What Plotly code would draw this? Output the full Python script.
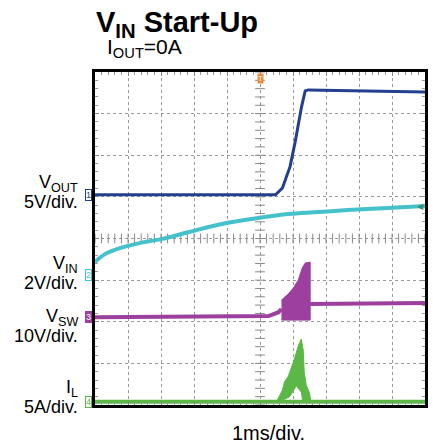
import numpy as np
import plotly.graph_objects as go

# ---------------- data (time in ms, trigger at 0) ----------------
# channel settings: scale per division and ground offset (divisions from centre)
ch_scale = {"VOUT": 5.0, "VIN": 2.0, "VSW": 10.0, "IL": 5.0}
ch_offset = {"VOUT": 1.05, "VIN": -0.88, "VSW": -1.89, "IL": -3.92}

vout_t = [-5.0, 0.47, 0.68, 0.91, 1.06, 1.26, 1.37, 1.46, 5.0]
vout_v = [0.0, 0.0, 0.82, 3.38, 6.23, 10.6, 12.48, 12.6, 12.36]

vin_t = [-5.0, -4.70, -4.25, -3.65, -2.96, -2.15, -1.16, -0.05, 0.86, 1.76, 2.66, 3.86, 5.0]
vin_v = [0.63, 1.01, 1.30, 1.54, 1.74, 2.07, 2.46, 2.75, 2.94, 3.03, 3.13, 3.23, 3.32]

vsw_pre_t = [-5.0, 0.26, 0.56, 0.65]
vsw_pre_v = [0.0, 0.27, 1.2, 1.95]
vsw_env_top_t = [0.65, 0.86, 1.01, 1.16, 1.28, 1.37, 1.52]
vsw_env_top_v = [4.1, 5.6, 7.0, 8.9, 11.8, 13.0, 13.25]
vsw_env_bot_t = [1.52, 0.65]
vsw_env_bot_v = [-0.7, -0.7]
vsw_post_t = [1.52, 5.0]
vsw_post_v = [3.15, 3.4]

il_base_t = [-5.0, 5.0]
il_base_v = [0.0, 0.0]
il_top_t = [0.50, 0.59, 0.68, 0.74, 0.86, 1.01, 1.16, 1.25, 1.31, 1.34, 1.40, 1.49, 1.55]
il_top_v = [0.0, 0.67, 1.39, 2.35, 3.07, 4.75, 6.68, 7.52, 6.2, 3.55, 1.99, 1.15, 0.0]
il_bot_t = [1.30, 1.25, 1.10, 0.90, 0.75, 0.55]
il_bot_v = [0.0, 1.15, 1.9, 0.6, 0.3, 0.0]

x_divs = np.arange(-5, 5.001, 1.0)
y_divs = np.arange(-4, 4.001, 1.0)

colors = {"VOUT": "#233f8e", "VIN": "#45c1cc", "VSW": "#9c3f9e", "IL": "#5cb846"}


def to_div(name, vals):
    return [ch_offset[name] + v / ch_scale[name] for v in vals]


FONT = "Liberation Sans, Arial, sans-serif"
fig = go.Figure()

# centre-line tick marks (graticule)
minor_x = np.arange(-5, 5.0001, 0.2)
minor_y = np.arange(-4, 4.0001, 0.2)
fig.add_trace(go.Scatter(x=minor_x, y=np.zeros_like(minor_x), mode="markers",
                         marker=dict(symbol="line-ns", size=7, line=dict(width=1, color="#888")),
                         hoverinfo="skip", showlegend=False))
fig.add_trace(go.Scatter(x=np.zeros_like(minor_y), y=minor_y, mode="markers",
                         marker=dict(symbol="line-ew", size=7, line=dict(width=1, color="#888")),
                         hoverinfo="skip", showlegend=False))

# IL
fig.add_trace(go.Scatter(x=il_base_t, y=to_div("IL", il_base_v), mode="lines",
                         line=dict(color=colors["IL"], width=4), showlegend=False))
fig.add_trace(go.Scatter(x=il_top_t + il_bot_t, y=to_div("IL", il_top_v + il_bot_v), mode="lines",
                         fill="toself", fillcolor=colors["IL"],
                         line=dict(color=colors["IL"], width=1), showlegend=False))
# VSW
fig.add_trace(go.Scatter(x=vsw_pre_t, y=to_div("VSW", vsw_pre_v), mode="lines",
                         line=dict(color=colors["VSW"], width=4), showlegend=False))
fig.add_trace(go.Scatter(x=vsw_env_top_t + vsw_env_bot_t, y=to_div("VSW", vsw_env_top_v + vsw_env_bot_v),
                         mode="lines", fill="toself", fillcolor=colors["VSW"],
                         line=dict(color=colors["VSW"], width=1), showlegend=False))
fig.add_trace(go.Scatter(x=vsw_post_t, y=to_div("VSW", vsw_post_v), mode="lines",
                         line=dict(color=colors["VSW"], width=4), showlegend=False))
# VIN
fig.add_trace(go.Scatter(x=vin_t, y=to_div("VIN", vin_v), mode="lines", line_shape="spline",
                         line=dict(color=colors["VIN"], width=4), showlegend=False))
# VOUT
fig.add_trace(go.Scatter(x=vout_t, y=to_div("VOUT", vout_v), mode="lines",
                         line=dict(color=colors["VOUT"], width=3), showlegend=False))

axis_common = dict(showgrid=True, gridcolor="#999", griddash="dot", gridwidth=1,
                   zeroline=False, showline=True, linecolor="black", linewidth=3,
                   mirror="ticks", ticks="inside", ticklen=4, tickcolor="#888",
                   minor=dict(ticks="inside", ticklen=3, tickcolor="#999"),
                   showticklabels=False, fixedrange=True)
fig.update_xaxes(range=[-5, 5], tickvals=x_divs, minor_tickvals=minor_x, **axis_common)
fig.update_yaxes(range=[-4, 4], tickvals=y_divs, minor_tickvals=minor_y, **axis_common)

L, T, PW, PH = 95, 72, 333, 333


def px(x):
    return (x - L) / PW


def py(y):
    return (T + PH - y) / PH


ann = []
# title and subtitle
ann.append(dict(text="<b>V<sub>IN</sub> Start-Up</b>", x=px(178), y=py(24), xref="paper", yref="paper",
                xanchor="center", yanchor="middle",
                showarrow=False, font=dict(family=FONT, size=29, color="black")))
ann.append(dict(text="I<sub>OUT</sub>=0A", x=px(145), y=py(48), xref="paper", yref="paper",
                xanchor="center", yanchor="middle",
                showarrow=False, font=dict(family=FONT, size=21, color="black")))
ann.append(dict(text="1ms/div.", x=px(270), y=py(433), xref="paper", yref="paper",
                xanchor="center", yanchor="middle",
                showarrow=False, font=dict(family=FONT, size=20, color="black")))

labels = [("V<sub>OUT</sub>", "5V/div.", 183, 202),
          ("V<sub>IN</sub>", "2V/div.", 264, 283),
          ("V<sub>SW</sub>", "10V/div.", 317, 336),
          ("I<sub>L</sub>", "5A/div.", 388, 407)]
for top, bot, y1, y2 in labels:
    ann.append(dict(text=top, x=px(80), y=py(y1), xref="paper", yref="paper",
                    xanchor="right", yanchor="middle",
                    showarrow=False, font=dict(family=FONT, size=18, color="black")))
    ann.append(dict(text=bot, x=px(80), y=py(y2), xref="paper", yref="paper",
                    xanchor="right", yanchor="middle",
                    showarrow=False, font=dict(family=FONT, size=18, color="black")))

# channel ground markers
for i, name in enumerate(["VOUT", "VIN", "VSW", "IL"]):
    filled = name == "VSW"
    ann.append(dict(text=str(i + 1), x=px(88), xref="paper", y=ch_offset[name], yref="y",
                    xanchor="center", yanchor="middle",
                    showarrow=False, font=dict(family=FONT, size=9, color="white" if filled else colors[name]),
                    bordercolor=colors[name], borderwidth=1, borderpad=0,
                    bgcolor=colors[name] if filled else "white"))

# trigger marker
ann.append(dict(text="T", x=0, xref="x", y=py(78), yref="paper", showarrow=False,
                xanchor="center", yanchor="middle",
                font=dict(family=FONT, size=8, color="white"), bgcolor="#f08a3a", borderpad=0))
ann.append(dict(text="◀", x=4.85, xref="x", y=to_div("VIN", [3.28])[0], yref="y", showarrow=False,
                xanchor="center", yanchor="middle",
                font=dict(family=FONT, size=8, color="#2f8f6f")))

fig.update_layout(width=433, height=448, margin=dict(l=L, r=433 - L - PW, t=T, b=448 - T - PH),
                  plot_bgcolor="white", paper_bgcolor="white", annotations=ann,
                  showlegend=False)

fig.write_html("out.html", config={"displayModeBar": False},
               post_script="document.body.style.margin='0';document.body.style.overflow='hidden';")
